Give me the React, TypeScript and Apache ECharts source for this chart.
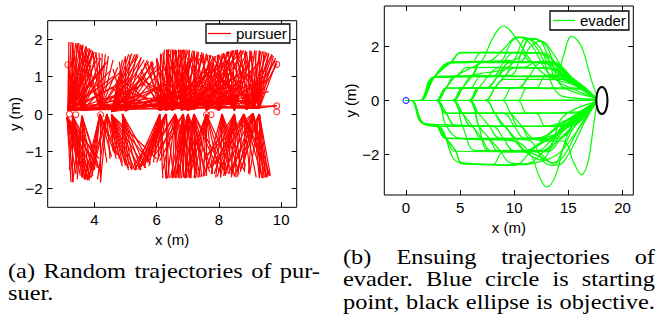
import { useEffect, useRef } from 'react';
import * as echarts from 'echarts';

const SANS = 'Liberation Sans';
const SERIF = "'Liberation Serif', 'Times New Roman', Times, serif";

// ---------- (a) pursuer ----------
const pursuerXRange = [2.5, 10.5];
const pursuerYRange = [-2.5, 2.5];
const pursuerXTicks = [4, 6, 8, 10];
const pursuerYTicks = [-2, -1, 0, 1, 2];

const upperBases = [
  [3.15, 0.1], [4.2, 0.12], [4.55, 0.06], [6.3, 0.1], [6.8, 0.1], [7.2, 0.12], [8.5, 0.1], [9.1, 0.15],
  [3.3, 0.12], [6.5, 0.1], [7.6, 0.1], [8.9, 0.12], [5.0, 0.08],
  [3.6, 0.1], [6.1, 0.1], [7.0, 0.1], [8.0, 0.1], [9.3, 0.15],
];
const upperEnds = [
  [[3.18, 1.93], [3.25, 1.93], [3.32, 1.92], [3.4, 1.9], [3.48, 1.88], [3.56, 1.86], [3.64, 1.83], [3.72, 1.8], [3.8, 1.76], [3.9, 1.72], [4.0, 1.66], [3.15, 1.32], [3.35, 1.6], [3.6, 1.45], [3.9, 1.3], [4.2, 1.15], [4.6, 1.0], [4.9, 0.85], [5.5, 0.5], [6.3, 0.38], [7.2, 0.3], [9.1, 0.18], [9.86, 0.22], [8.5, 0.4], [4.4, 1.4]],
  [[3.4, 1.85], [3.55, 1.78], [3.7, 1.7], [3.95, 1.66], [4.05, 1.66], [4.15, 1.64], [4.25, 1.62], [4.35, 1.6], [4.45, 1.55], [4.6, 1.45], [4.75, 1.25], [4.9, 1.1], [5.2, 0.95], [6.0, 0.7], [7.2, 0.55], [5.4, 1.6]],
  [[4.9, 1.45], [5.0, 1.55], [5.1, 1.6], [5.2, 1.62], [5.3, 1.6], [5.4, 1.55], [5.5, 1.5], [5.6, 1.45], [5.75, 1.4], [5.9, 1.35], [6.1, 1.25], [5.2, 1.2], [5.6, 1.0], [6.3, 0.8], [6.8, 0.6], [8.5, 0.5]],
  [[5.3, 1.1], [5.6, 1.35], [5.8, 1.4], [6.0, 1.45], [6.15, 1.6], [6.3, 1.73], [6.38, 1.73], [6.46, 1.73], [6.55, 1.72], [6.65, 1.7], [6.9, 1.65], [7.1, 1.5], [7.6, 1.2], [8.2, 0.9], [9.1, 0.55]],
  [[6.5, 1.55], [6.6, 1.72], [6.7, 1.73], [6.78, 1.73], [6.86, 1.73], [6.95, 1.73], [7.05, 1.72], [7.15, 1.7], [7.3, 1.62], [7.5, 1.55], [7.8, 1.4], [6.2, 1.3], [8.3, 1.1], [9.1, 0.8]],
  [[6.9, 1.55], [7.2, 1.68], [7.3, 1.68], [7.45, 1.66], [7.6, 1.62], [7.75, 1.58], [7.9, 1.55], [8.05, 1.55], [8.2, 1.6], [8.35, 1.66], [8.5, 1.7], [8.7, 1.68], [9.0, 1.3]],
  [[7.7, 1.35], [7.85, 1.5], [8.0, 1.58], [8.15, 1.64], [8.3, 1.68], [8.45, 1.7], [8.6, 1.72], [8.75, 1.7], [8.9, 1.67], [9.05, 1.62], [7.5, 1.25], [8.2, 1.2]],
  [[8.3, 1.2], [8.6, 1.4], [8.9, 1.6], [9.05, 1.68], [9.2, 1.7], [9.3, 1.7], [9.4, 1.68], [9.5, 1.66], [9.6, 1.62], [9.72, 1.58], [9.82, 1.5], [9.86, 1.35], [9.86, 0.22]],
  [[3.3, 1.9], [3.45, 1.9], [3.6, 1.84], [3.75, 1.78], [3.85, 1.74], [3.95, 1.68], [4.1, 1.5], [4.3, 1.3], [4.5, 1.15], [5.0, 0.9], [5.4, 0.7], [6.5, 0.5], [7.6, 0.35], [9.0, 0.3]],
  [[6.0, 1.5], [6.2, 1.65], [6.35, 1.72], [6.5, 1.73], [6.62, 1.72], [6.72, 1.72], [6.84, 1.72], [7.0, 1.7], [7.2, 1.62], [7.4, 1.5], [5.8, 1.25], [5.5, 1.0], [7.8, 1.2], [8.5, 0.8]],
  [[7.3, 1.6], [7.5, 1.62], [7.7, 1.58], [7.85, 1.55], [8.0, 1.6], [8.15, 1.62], [8.3, 1.68], [8.45, 1.7], [8.6, 1.72], [8.8, 1.7], [7.0, 1.5], [6.8, 1.3], [9.1, 1.2], [9.5, 0.9]],
  [[8.2, 1.5], [8.4, 1.62], [8.55, 1.7], [8.7, 1.72], [8.85, 1.7], [9.0, 1.7], [9.15, 1.7], [9.35, 1.68], [9.55, 1.64], [9.7, 1.6], [9.8, 1.45], [7.8, 1.2], [7.4, 0.9]],
  [[4.6, 1.2], [4.8, 1.4], [5.0, 1.5], [5.15, 1.58], [5.35, 1.6], [5.5, 1.52], [5.7, 1.45], [5.85, 1.38], [6.0, 1.3], [6.2, 1.2], [6.5, 1.0], [7.0, 0.7]],
  [[3.3, 1.85], [3.5, 1.9], [3.62, 1.86], [3.74, 1.82], [3.84, 1.76], [3.94, 1.7], [4.05, 1.62], [4.2, 1.5], [4.35, 1.35], [3.3, 1.2], [3.2, 1.0], [4.8, 1.1], [5.6, 0.8], [6.8, 0.45], [8.0, 0.35], [9.1, 0.35]],
  [[5.5, 1.2], [5.7, 1.4], [5.85, 1.42], [6.0, 1.48], [6.1, 1.62], [6.25, 1.72], [6.4, 1.73], [6.6, 1.72], [6.8, 1.7], [7.2, 1.5], [7.7, 1.1], [8.6, 0.7], [9.1, 0.4], [4.9, 0.9], [4.5, 0.7]],
  [[6.4, 1.6], [6.6, 1.7], [6.75, 1.72], [6.9, 1.72], [7.05, 1.72], [7.2, 1.7], [7.35, 1.66], [7.5, 1.62], [7.65, 1.58], [7.8, 1.5], [8.0, 1.4], [8.5, 1.0], [9.6, 0.6], [5.6, 0.9], [5.0, 0.6]],
  [[7.4, 1.58], [7.6, 1.6], [7.8, 1.55], [7.95, 1.58], [8.1, 1.62], [8.25, 1.66], [8.4, 1.7], [8.55, 1.72], [8.7, 1.7], [8.9, 1.65], [9.1, 1.55], [9.3, 1.4], [9.6, 1.1], [6.6, 1.0], [6.0, 0.7]],
  [[8.6, 1.55], [8.8, 1.65], [9.0, 1.7], [9.15, 1.7], [9.3, 1.7], [9.45, 1.68], [9.6, 1.64], [9.75, 1.55], [9.85, 1.4], [8.0, 1.0], [7.2, 0.8], [6.0, 0.5], [4.5, 0.35], [3.3, 0.25]],
];
const lowerBases = [
  [3.12, -0.08], [4.18, 0.0], [4.55, -0.02], [6.3, 0.0], [6.85, 0.0], [7.2, 0.0], [8.5, 0.0], [9.1, 0.02],
  [3.3, -0.05], [6.6, 0.0], [7.6, 0.0], [8.8, 0.0], [4.9, 0.0],
  [3.6, -0.05], [4.4, 0.0], [6.1, 0.0], [7.0, 0.0], [8.1, 0.0], [9.3, 0.0],
];
const lowerEnds = [
  [[3.25, -1.83], [3.32, -1.83], [3.4, -1.6], [3.55, -1.65], [3.65, -1.72], [3.72, -1.76], [3.8, -1.78], [3.88, -1.7], [3.95, -1.55], [4.05, -1.35], [4.15, -1.2]],
  [[4.18, -1.84], [3.68, -1.76], [3.76, -1.74], [3.84, -1.7], [3.92, -1.62], [4.0, -1.5], [4.4, -1.3], [4.55, -1.15], [4.65, -1.05], [4.75, -1.1]],
  [[4.6, -1.0], [4.7, -1.1], [4.8, -1.2], [4.9, -1.3], [5.0, -1.38], [5.1, -1.45], [5.2, -1.5], [5.3, -1.5], [5.45, -1.45], [5.6, -1.4], [5.8, -1.3], [6.0, -1.2]],
  [[5.2, -1.48], [5.3, -1.5], [5.4, -1.48], [5.5, -1.42], [5.6, -1.35], [5.7, -1.25], [5.8, -1.15], [5.95, -1.05], [6.1, -1.0], [6.3, -1.74], [6.4, -1.72], [6.55, -1.7]],
  [[6.45, -1.7], [6.55, -1.72], [6.65, -1.72], [6.75, -1.72], [6.85, -1.7], [6.95, -1.7], [7.05, -1.68], [6.1, -1.25], [5.9, -1.15], [7.3, -1.5]],
  [[6.9, -1.7], [7.0, -1.7], [7.1, -1.72], [7.2, -1.72], [7.3, -1.7], [7.45, -1.68], [7.55, -1.66], [7.7, -1.55], [7.9, -1.35], [8.1, -1.45], [6.7, -1.5]],
  [[7.5, -1.3], [7.7, -1.45], [7.85, -1.6], [7.95, -1.68], [8.05, -1.7], [8.15, -1.66], [8.25, -1.6], [8.4, -1.65], [8.55, -1.7], [8.7, -1.55], [8.85, -1.4]],
  [[7.6, -1.1], [7.9, -1.3], [8.2, -1.5], [8.4, -1.62], [8.6, -1.55], [8.8, -1.35], [8.95, -1.6], [9.3, -1.72], [9.38, -1.7], [9.46, -1.7], [9.54, -1.68], [9.62, -1.65]],
  [[3.3, -1.82], [3.45, -1.62], [3.6, -1.7], [3.7, -1.75], [3.78, -1.78], [3.86, -1.72], [4.0, -1.5], [4.1, -1.3], [3.2, -1.5]],
  [[5.5, -1.4], [5.7, -1.3], [6.0, -1.3], [6.2, -1.5], [6.35, -1.72], [6.5, -1.72], [6.62, -1.7], [6.72, -1.72], [6.9, -1.72], [7.1, -1.7], [7.3, -1.6]],
  [[6.9, -1.72], [7.05, -1.72], [7.2, -1.7], [7.35, -1.7], [7.5, -1.68], [7.6, -1.66], [7.8, -1.6], [8.0, -1.55], [8.2, -1.6], [8.4, -1.5], [7.0, -1.4]],
  [[7.8, -1.4], [8.0, -1.55], [8.2, -1.62], [8.4, -1.7], [8.6, -1.68], [8.8, -1.55], [9.0, -1.62], [9.2, -1.7], [9.4, -1.72], [9.55, -1.7], [9.65, -1.66]],
  [[4.9, -1.1], [5.0, -1.25], [5.1, -1.35], [5.2, -1.45], [5.35, -1.5], [5.5, -1.5], [5.65, -1.45], [5.8, -1.35]],
  [[3.3, -1.82], [3.45, -1.75], [3.6, -1.7], [3.72, -1.74], [3.84, -1.78], [3.95, -1.65], [4.1, -1.45], [4.2, -1.6]],
  [[4.2, -1.8], [4.1, -1.75], [3.9, -1.7], [3.8, -1.74], [4.5, -1.2], [4.7, -1.2], [4.9, -1.4], [5.1, -1.5]],
  [[5.3, -1.5], [5.45, -1.5], [5.6, -1.45], [5.75, -1.4], [5.9, -1.3], [6.05, -1.2], [6.2, -1.72], [6.3, -1.72]],
  [[6.5, -1.72], [6.6, -1.72], [6.7, -1.7], [6.8, -1.72], [6.95, -1.72], [7.1, -1.7], [7.25, -1.72], [7.4, -1.7], [7.6, -1.6], [7.8, -1.5]],
  [[7.6, -1.5], [7.75, -1.62], [7.9, -1.7], [8.05, -1.7], [8.2, -1.66], [8.35, -1.6], [8.5, -1.68], [8.65, -1.62], [8.8, -1.5]],
  [[8.3, -1.6], [8.5, -1.65], [8.7, -1.5], [9.0, -1.55], [9.3, -1.7], [9.42, -1.72], [9.5, -1.7], [9.58, -1.68], [9.65, -1.64]],
];
const pursuerMarks = [
  [3.15, 1.32], [9.86, 1.33], [9.86, 0.22], [9.86, 0.06], [3.2, 0.0], [3.4, -0.02], [4.2, -0.02],
  [7.6, -0.02], [7.75, -0.02],
];

// ---------- (b) evader ----------
const evaderXRange = [-2, 21];
const evaderYRange = [-3.5, 3.5];
const evaderXTicks = [0, 5, 10, 15, 20];
const evaderYTicks = [-2, 0, 2];
const evaderStart = [[0, 0]];
const evaderGoal = [[18.1, 0, 0.52, 0.5]];

const evaderUpper = [
  [[0, 0], [17.6, 0]],
  [[0, 0], [0.3, 0], [17.6, 0.02]],
  [[0, 0], [1.3, 0], [2.6, 0.86], [3.3, 0.9], [14.5, 0.9], [16.5, 0.4], [17.5, 0.08]],
  [[0, 0], [1.3, 0], [2.6, 0.86], [4.2, 1.42], [13.2, 1.42], [15, 0.9], [17.5, 0.12]],
  [[0, 0], [1.3, 0], [2.6, 0.86], [4.2, 1.42], [5.1, 1.76], [12.7, 1.76], [14.4, 1.0], [17.5, 0.15]],
  [[0, 0], [2.8, 0], [3.7, 0.46], [15.5, 0.47], [17.5, 0.08]],
  [[0, 0], [4.3, 0], [5.2, 0.44], [6, 0.47], [6.9, 0.88], [13, 0.88], [15.5, 0.6], [17.5, 0.05]],
  [[0, 0], [5.8, 0], [6.7, 0.45], [7.5, 0.48], [8.5, 0.92], [9.6, 1.4], [13.5, 1.44], [15.3, 0.8], [17.5, 0.1]],
  [[0, 0], [7.3, 0], [8.2, 0.45], [9.1, 0.78], [14.8, 0.78], [17.5, 0.1]],
  [[0, 0], [8.8, 0], [9.7, 0.46], [10.5, 0.5], [11.4, 0.9], [12.4, 1.38], [13.4, 1.3], [16, 0.5], [17.5, 0.1]],
  [[0, 0], [10.3, 0], [11.2, 0.45], [16, 0.42], [17.5, 0.05]],
  [[0, 0], [2.8, 0], [3.7, 0.46], [4.6, 0.9], [6, 1.2], [7, 1.45], [8, 2.3], [9, 2.76], [10, 2.4], [11.5, 1.5], [13, 0.92], [16, 0.5], [17.5, 0.1]],
  [[0, 0], [1.3, 0], [2.6, 0.86], [4.2, 1.42], [7.5, 1.44], [9, 1.9], [10.3, 2.36], [11.5, 2.1], [13.2, 1.0], [14.2, 0.9], [17.5, 0.1]],
  [[0, 0], [4.3, 0], [5.2, 0.44], [6, 0.9], [9.5, 1.25], [11.2, 2.3], [12.3, 2.0], [13.4, 1.2], [16, 0.6], [17.5, 0.1]],
  [[0, 0], [1.3, 0], [2.6, 0.86], [13.8, 0.92], [14.5, 1.6], [15.3, 2.38], [16.2, 2.0], [17.1, 0.8], [17.6, 0.2]],
  [[0, 0], [5.8, 0], [6.7, 0.45], [7.6, 0.9], [8.6, 1.22], [12.8, 1.22], [14.5, 0.9], [17.5, 0.1]],
  [[0, 0], [1.3, 0], [2.6, 0.86], [4.2, 1.4], [10, 1.5], [11.5, 2.28], [13, 2.0], [13.8, 1.0], [14.5, 0.5], [17.5, 0.1]],
  [[0, 0], [1.3, 0], [2.6, 0.86], [6, 0.9], [7, 1.4], [13, 1.4], [15, 0.88], [17.5, 0.1]],
  [[0, 0], [1.3, 0], [2.6, 0.86], [9, 0.9], [10, 1.43], [13.3, 1.43], [15.5, 0.7], [17.5, 0.1]],
  [[0, 0], [2.8, 0], [3.7, 0.46], [7.5, 0.47], [8.5, 0.9], [9.6, 1.22], [13, 1.2], [15, 0.7], [17.5, 0.1]],
  [[0, 0], [1.3, 0], [2.6, 0.86], [4.2, 1.45], [5.1, 1.78], [10.5, 1.78], [11.6, 1.42], [13.6, 1.4], [15.5, 0.8], [17.5, 0.1]],
  [[0, 0], [4.3, 0], [5.2, 0.45], [10.5, 0.46], [11.4, 0.88], [14.6, 0.88], [17.5, 0.1]],
  [[0, 0], [1.3, 0], [2.6, 0.86], [4.2, 1.39], [6, 1.4], [7, 1.78], [12.2, 1.76], [14, 1.1], [17.5, 0.12]],
  [[0, 0], [2.8, 0], [3.7, 0.46], [4.6, 0.88], [8, 0.9], [9, 1.4], [10, 1.78], [12.5, 1.74], [14.3, 1.2], [17.5, 0.1]],
  [[0, 0], [5.8, 0], [6.7, 0.48], [12, 0.48], [12.9, 0.9], [15, 0.7], [17.5, 0.05]],
  [[0, 0], [7.3, 0], [8.2, 0.47], [9.1, 0.9], [10.1, 1.22], [13.2, 1.2], [15.5, 0.6], [17.5, 0.1]],
  [[0, 0], [1.3, 0], [2.6, 0.86], [4.6, 0.89], [5.6, 1.22], [11, 1.24], [12, 1.42], [13.4, 1.42], [15.3, 0.7], [17.5, 0.1]],
  [[0, 0], [1.3, 0], [2.6, 0.86], [4.2, 1.42], [8.5, 1.44], [9.8, 2.2], [10.6, 2.35], [11.6, 2.2], [12.8, 1.4], [13.6, 0.5], [14.5, 0.15], [17.5, 0.05]],
  [[0, 0], [2.8, 0], [3.7, 0.46], [4.6, 0.9], [9.5, 0.92], [10.8, 1.9], [11.4, 2.3], [12.3, 2.25], [13.2, 1.5], [13.8, 0.8], [15, 0.5], [17.5, 0.1]],
  [[0, 0], [4.3, 0], [5.2, 0.45], [6.1, 0.9], [7, 1.42], [10.5, 1.44], [11.5, 2.0], [12.5, 2.2], [13.5, 1.8], [15, 0.9], [17.5, 0.1]],
];
const evaderLower = [
  [[0, 0], [0.5, 0], [1.6, -0.85], [2.8, -0.93], [3.7, -1.4], [4.6, -1.87], [5.2, -2.32], [10, -2.4], [11.5, -1.9], [14, -1.0], [17.5, -0.1]],
  [[0, 0], [0.5, 0], [1.6, -0.85], [3, -0.96], [15, -0.96], [17.5, -0.1]],
  [[0, 0], [0.5, 0], [1.6, -0.85], [2.8, -0.93], [3.7, -1.4], [12, -1.4], [14.5, -0.8], [17.5, -0.1]],
  [[0, 0], [2.8, 0], [3.7, -0.47], [15.5, -0.47], [17.5, -0.05]],
  [[0, 0], [4.3, 0], [5.2, -0.47], [6.1, -0.92], [7, -1.4], [7.9, -1.86], [12, -1.86], [14, -1.2], [17.5, -0.1]],
  [[0, 0], [5.8, 0], [6.7, -0.47], [7.7, -0.95], [8.7, -1.4], [13, -1.42], [15, -0.7], [17.5, -0.1]],
  [[0, 0], [7.3, 0], [8.2, -0.47], [9.2, -0.95], [14, -0.96], [17.5, -0.1]],
  [[0, 0], [8.8, 0], [9.7, -0.47], [10.7, -0.95], [11.7, -1.4], [13, -1.5], [15.5, -0.6], [17.5, -0.05]],
  [[0, 0], [2.8, 0], [3.7, -0.92], [5, -1.4], [10, -1.5], [11.5, -2.0], [12.3, -2.8], [13, -3.2], [13.8, -2.8], [14.8, -1.4], [16, -0.5], [17.5, -0.1]],
  [[0, 0], [4.3, 0], [5.2, -0.92], [6.5, -1.86], [11, -1.86], [13, -1.5], [14.5, -1.5], [15.5, -2.3], [16.2, -2.75], [16.8, -2.3], [17.3, -1.0], [17.6, -0.2]],
  [[0, 0], [0.5, 0], [1.6, -0.85], [3, -0.93], [5, -2.3], [10.5, -2.38], [12, -2.3], [14, -2.0], [15.5, -1.3], [17.5, -0.1]],
  [[0, 0], [10.3, 0], [11.2, -0.47], [16, -0.42], [17.5, -0.05]],
  [[0, 0], [5.8, 0], [6.7, -0.92], [7.7, -1.86], [11, -1.9], [12.5, -2.1], [14, -2.4], [15, -2.0], [16.5, -0.8], [17.5, -0.1]],
  [[0, 0], [0.5, 0], [1.6, -0.85], [6, -0.95], [7, -1.42], [13, -1.42], [15, -0.8], [17.5, -0.1]],
  [[0, 0], [0.5, 0], [1.6, -0.85], [2.8, -0.93], [3.7, -1.4], [7.5, -1.42], [8.5, -1.86], [12.5, -1.86], [14.5, -1.0], [17.5, -0.1]],
  [[0, 0], [0.5, 0], [1.6, -0.85], [2.8, -0.93], [3.7, -1.4], [4.6, -1.88], [10.5, -1.9], [12.5, -1.6], [17.5, -0.1]],
  [[0, 0], [2.8, 0], [3.7, -0.47], [9, -0.48], [10, -0.95], [11, -1.4], [13.5, -1.3], [17.5, -0.1]],
  [[0, 0], [4.3, 0], [5.2, -0.47], [9.5, -0.48], [10.4, -0.96], [14.5, -0.95], [17.5, -0.1]],
  [[0, 0], [5.8, 0], [6.7, -0.92], [7.7, -1.4], [8.7, -1.86], [9.6, -2.3], [11, -2.35], [13, -1.8], [15, -1.2], [17.5, -0.1]],
  [[0, 0], [2.8, 0], [3.7, -0.47], [4.6, -0.93], [8, -0.95], [9, -1.4], [10, -1.86], [12.8, -1.86], [14.6, -1.1], [17.5, -0.1]],
  [[0, 0], [5.8, 0], [6.7, -0.48], [12, -0.48], [12.9, -0.95], [15, -0.7], [17.5, -0.05]],
  [[0, 0], [7.3, 0], [8.2, -0.47], [9.1, -0.95], [10.1, -1.4], [11.1, -1.86], [13, -1.9], [14.5, -1.3], [17.5, -0.1]],
  [[0, 0], [0.5, 0], [1.6, -0.85], [2.8, -0.93], [3.7, -1.4], [4.6, -1.87], [5.2, -2.35], [8, -2.37], [9, -1.9], [12, -1.9], [13.5, -2.3], [14.5, -2.1], [16, -1.0], [17.5, -0.1]],
  [[0, 0], [4.3, 0], [5.2, -0.47], [6.1, -0.95], [10.5, -0.96], [11.5, -1.42], [14, -1.4], [16, -0.6], [17.5, -0.05]],
  [[0, 0], [2.8, 0], [3.7, -0.47], [4.6, -0.93], [9, -0.95], [10, -1.4], [11.5, -1.5], [12.8, -2.3], [13.6, -2.4], [14.5, -1.8], [15.5, -1.0], [17.5, -0.1]],
  [[0, 0], [0.5, 0], [1.6, -0.85], [2.8, -0.93], [3.7, -1.4], [9.5, -1.42], [11, -1.9], [12.5, -2.2], [13.5, -1.6], [14.5, -0.6], [17.5, -0.05]],
];

// ---------- captions ----------
const captionA = ['(a) Random trajectories of pur-', 'suer.'];
const captionAJustify = [true, false];
const captionB = ['(b) Ensuing trajectories of', 'evader. Blue circle is starting', 'point, black ellipse is objective.'];
const captionBJustify = [true, true, true];

const minus = (v: number) => String(v).replace('-', '\u2212');

function makeAxis(range: number[], ticks: number[], gridIndex: number, pos: string, showLabel: boolean, name?: string, nameGap?: number) {
  return {
    type: 'value',
    gridIndex,
    position: pos,
    min: range[0],
    max: range[1],
    name: name || '',
    nameLocation: 'middle',
    nameGap: nameGap || 0,
    nameTextStyle: { color: '#000', fontSize: 15, fontFamily: SANS },
    axisLine: { show: false, onZero: false },
    splitLine: { show: false },
    axisTick: { show: true, inside: true, length: 5, customValues: ticks, lineStyle: { color: '#000', width: 1 } },
    axisLabel: { show: showLabel, customValues: ticks, margin: 5, color: '#000', fontSize: 15, fontFamily: SANS, formatter: minus },
  };
}

export default function App() {
  const ref = useRef<HTMLDivElement>(null);
  useEffect(() => {
    const chart = echarts.init(ref.current!, null, { renderer: 'svg' });

    const segs: any[] = [];
    upperBases.forEach((b, i) => upperEnds[i].forEach((e) => segs.push({ coords: [b, e] })));
    lowerBases.forEach((b, i) => lowerEnds[i].forEach((e) => segs.push({ coords: [b, e] })));

    const evaderSeries = [...evaderUpper, ...evaderLower].map((t) => ({
      type: 'line',
      name: 'evader',
      xAxisIndex: 2,
      yAxisIndex: 2,
      data: t,
      smooth: 0.4,
      symbol: 'none',
      showSymbol: false,
      silent: true,
      lineStyle: { color: '#00ff00', width: 1.2 },
      itemStyle: { color: '#00ff00' },
      z: 2,
    }));

    // caption layout (justified words, horizontally stretched serif text)
    const SX = 1.22;
    const FS = 20;
    const canvas = document.createElement('canvas');
    const ctx = canvas.getContext('2d')!;
    ctx.font = `${FS}px ${SERIF}`;
    const graphics: any[] = [];
    const layoutCaption = (lines: string[], just: boolean[], x0: number, x1: number, y0: number, lh: number) => {
      lines.forEach((line, li) => {
        const words = line.split(' ');
        const widths = words.map((w) => ctx.measureText(w).width * SX);
        const total = widths.reduce((a, b) => a + b, 0);
        const gap = just[li] && words.length > 1 ? (x1 - x0 - total) / (words.length - 1) : ctx.measureText(' ').width * SX;
        let x = x0;
        words.forEach((w, wi) => {
          graphics.push({
            type: 'text',
            x,
            y: y0 + li * lh,
            scaleX: SX,
            scaleY: 1,
            silent: true,
            style: { text: w, fill: '#000', fontSize: FS, fontFamily: SERIF, align: 'left', verticalAlign: 'middle' },
          });
          x += widths[wi] + gap;
        });
      });
    };
    layoutCaption(captionA, captionAJustify, 8, 320, 271.5, 21.7);
    layoutCaption(captionB, captionBJustify, 343, 655, 257.5, 22.2);

    const option: any = {
      animation: false,
      textStyle: { fontFamily: SANS },
      grid: [
        { left: 47.7, top: 20.7, width: 249, height: 186.6, show: true, borderColor: '#000', borderWidth: 1, backgroundColor: 'transparent' },
        { left: 384.3, top: 6, width: 249, height: 189, show: true, borderColor: '#000', borderWidth: 1, backgroundColor: 'transparent' },
      ],
      xAxis: [
        makeAxis(pursuerXRange, pursuerXTicks, 0, 'bottom', true, 'x (m)', 15),
        makeAxis(pursuerXRange, pursuerXTicks, 0, 'top', false),
        makeAxis(evaderXRange, evaderXTicks, 1, 'bottom', true, 'x (m)', 12),
        makeAxis(evaderXRange, evaderXTicks, 1, 'top', false),
      ],
      yAxis: [
        makeAxis(pursuerYRange, pursuerYTicks, 0, 'left', true, 'y (m)', 24),
        makeAxis(pursuerYRange, pursuerYTicks, 0, 'right', false),
        makeAxis(evaderYRange, evaderYTicks, 1, 'left', true, 'y (m)', 24),
        makeAxis(evaderYRange, evaderYTicks, 1, 'right', false),
      ],
      legend: [
        {
          data: [{ name: 'pursuer', icon: 'rect', itemStyle: { color: '#ff0000', borderWidth: 0 } }],
          left: 206, top: 24,
          itemWidth: 23, itemHeight: 1.2,
          selectedMode: false,
          backgroundColor: '#fff', borderColor: '#000', borderWidth: 1.3,
          padding: [2, 3, 2, 2],
          textStyle: { color: '#000', fontSize: 15, fontFamily: SANS },
        },
        {
          data: [{ name: 'evader', icon: 'rect', itemStyle: { color: '#00ff00', borderWidth: 0 } }],
          left: 550, top: 11,
          itemWidth: 22, itemHeight: 1.2,
          selectedMode: false,
          backgroundColor: '#fff', borderColor: '#000', borderWidth: 1.3,
          padding: [2, 3, 2, 3],
          textStyle: { color: '#000', fontSize: 15, fontFamily: SANS },
        },
      ],
      series: [
        {
          type: 'lines',
          name: 'pursuer',
          coordinateSystem: 'cartesian2d',
          xAxisIndex: 0,
          yAxisIndex: 0,
          data: segs,
          silent: true,
          lineStyle: { color: '#ff0000', width: 1.2, opacity: 1 },
          itemStyle: { color: '#ff0000' },
          z: 2,
        },
        {
          type: 'scatter',
          name: 'pursuer',
          xAxisIndex: 0,
          yAxisIndex: 0,
          data: pursuerMarks,
          symbol: 'circle',
          symbolSize: 6,
          silent: true,
          itemStyle: { color: 'none', borderColor: '#ff0000', borderWidth: 1.1 },
          z: 3,
        },
        ...evaderSeries,
        {
          type: 'scatter',
          name: 'start',
          xAxisIndex: 2,
          yAxisIndex: 2,
          data: evaderStart,
          symbol: 'circle',
          symbolSize: 6,
          silent: true,
          itemStyle: { color: 'none', borderColor: '#0000ff', borderWidth: 1.2 },
          z: 5,
        },
        {
          type: 'custom',
          name: 'goal',
          xAxisIndex: 2,
          yAxisIndex: 2,
          data: evaderGoal,
          silent: true,
          z: 5,
          renderItem: (_p: any, api: any) => {
            const c = api.coord([api.value(0), api.value(1)]);
            const s = api.size([api.value(2), api.value(3)]);
            return {
              type: 'ellipse',
              shape: { cx: c[0], cy: c[1], rx: s[0], ry: s[1] },
              style: { fill: 'none', stroke: '#000', lineWidth: 2 },
            };
          },
        },
      ],
      graphic: graphics,
    };
    chart.setOption(option);
    return () => chart.dispose();
  }, []);
  return <div ref={ref} style={{ position: 'absolute', left: 0, top: 0, width: 658, height: 325, background: '#fff' }} />;
}
